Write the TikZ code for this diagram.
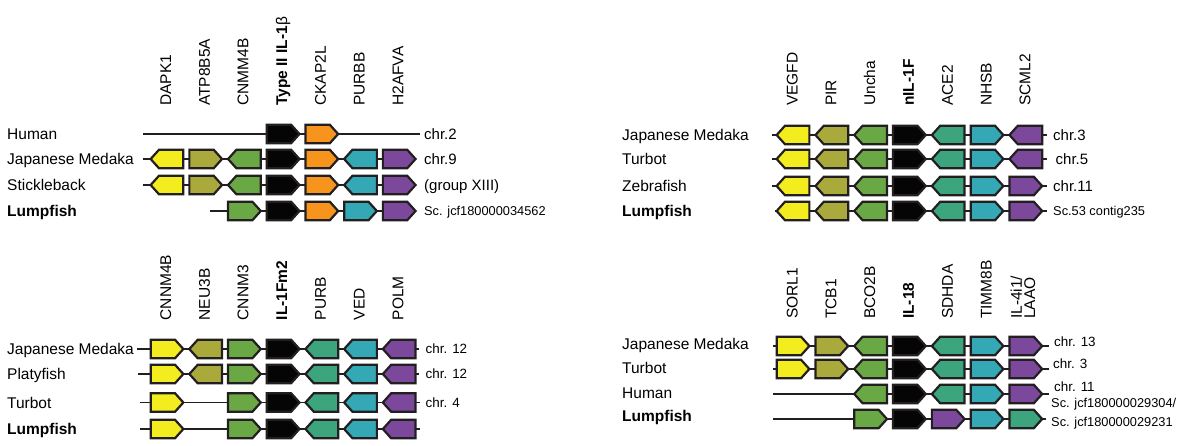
\documentclass[tikz,border=0pt]{standalone}
\usepackage{fontspec}
\setmainfont{Liberation Sans}
\usetikzlibrary{shapes.symbols}

\definecolor{edge}{HTML}{231F20}
\definecolor{gyellow}{HTML}{F3EC1E}
\definecolor{golive}{HTML}{AAAA3C}
\definecolor{ggreen}{HTML}{6AA846}
\definecolor{gblack}{HTML}{050505}
\definecolor{gorange}{HTML}{F7941E}
\definecolor{gcyan}{HTML}{34A8B4}
\definecolor{gsea}{HTML}{3CA57D}
\definecolor{gpurple}{HTML}{7C489B}

\begin{document}
\begin{tikzpicture}[x=1pt,y=-1pt,
  gene/.style={signal,signal pointer angle=96,draw=edge,line width=2.2pt,
    minimum width=32.7pt,minimum height=18.5pt,inner sep=0pt,outer sep=0pt},
  % the signal shape is centred on its box, not on box plus tip
  fwd/.style={gene,signal to=east,xshift=-4.16pt},
  rev/.style={gene,signal to=west,xshift=4.16pt},
  chrom/.style={draw=edge,line width=1.6pt},
  species/.style={anchor=west,inner sep=0pt,text height=11.1pt,text depth=0pt,
    font=\fontsize{15.5}{18}\selectfont},
  genename/.style={species,rotate=90},
  locus/.style={anchor=west,inner sep=0pt,text height=10.7pt,text depth=0pt,
    font=\fontsize{15}{18}\selectfont},
  locus small/.style={locus,text height=9.6pt,font=\fontsize{13.4}{16}\selectfont},
  scaffold/.style={locus,text height=9.2pt,font=\fontsize{12.8}{15}\selectfont}]
\useasboundingbox (0,0) rectangle (1193,445);

%% type II IL-1b locus (top left)
\foreach \i/\t in {1/DAPK1,2/ATP8B5A,3/CNMM4B,4/{\bfseries Type II IL-1}β,5/CKAP2L,6/PURBB,7/H2AFVA}
  \node[genename] (Ag\i) at ({165.5+(\i-1)*38.7},106) {\t};
\foreach \r/\y/\a/\b in {hum/134/143/420,med/159/143/416,stk/185/143/416,lmp/211/210/416} {
  \coordinate (A\r-s) at (\a,\y);
  \coordinate (A\r-e) at (\b,\y);
  \draw[chrom] (A\r-s) -- (A\r-e);
}
\foreach \i/\d/\c in {4/fwd/gblack,5/fwd/gorange}
  \node[\d,fill=\c] (Ahum\i) at ({167+(\i-1)*38.7},134) {};
\foreach \i/\d/\c in {1/rev/gyellow,2/fwd/golive,3/rev/ggreen,4/fwd/gblack,5/fwd/gorange,6/rev/gcyan,7/fwd/gpurple} {
  \node[\d,fill=\c] (Amed\i) at ({167+(\i-1)*38.7},159) {};
  \node[\d,fill=\c] (Astk\i) at ({167+(\i-1)*38.7},185) {};
}
\foreach \i/\d/\c in {3/fwd/ggreen,4/fwd/gblack,5/fwd/gorange,6/fwd/gcyan,7/fwd/gpurple}
  \node[\d,fill=\c] (Almp\i) at ({167+(\i-1)*38.7},211) {};
\node[species] (Ahum) at (7,134) {Human};
\node[species] (Amed) at (7,159) {Japanese Medaka};
\node[species] (Astk) at (7,185) {Stickleback};
\node[species] (Almp) at (7,211) {\bfseries Lumpfish};
\node[locus] (Ahum-c) at (424,134) {chr.2};
\node[locus] (Amed-c) at (424,159) {chr.9};
\node[locus] (Astk-c) at (424,185) {(group XIII)};
\node[scaffold] (Almp-c) at (424,211) {Sc. jcf180000034562};

%% nIL-1F locus (top right)
\foreach \i/\t in {1/VEGFD,2/PIR,3/Uncha,4/{\bfseries nIL-1F},5/ACE2,6/NHSB,7/SCML2}
  \node[genename] (Bg\i) at ({792+(\i-1)*38.8},106) {\t};
\foreach \r/\y/\a/\b in {med/135/772/1047,tur/159/772/1047,zeb/186/772/1047,lmp/211/775/1047} {
  \coordinate (B\r-s) at (\a,\y);
  \coordinate (B\r-e) at (\b,\y);
  \draw[chrom] (B\r-s) -- (B\r-e);
}
\foreach \i/\d/\c in {1/rev/gyellow,2/rev/golive,3/rev/ggreen,4/fwd/gblack,5/rev/gsea,6/fwd/gcyan,7/rev/gpurple} {
  \node[\d,fill=\c] (Bmed\i) at ({793+(\i-1)*38.8},135) {};
  \node[\d,fill=\c] (Btur\i) at ({793+(\i-1)*38.8},159) {};
}
\foreach \i/\d/\c in {1/rev/gyellow,2/rev/golive,3/rev/ggreen,4/fwd/gblack,5/rev/gsea,6/fwd/gcyan,7/fwd/gpurple} {
  \node[\d,fill=\c] (Bzeb\i) at ({793+(\i-1)*38.8},186) {};
  \node[\d,fill=\c] (Blmp\i) at ({793+(\i-1)*38.8},211) {};
}
\node[species] (Bmed) at (622,135) {Japanese Medaka};
\node[species] (Btur) at (622,159) {Turbot};
\node[species] (Bzeb) at (622,186) {Zebrafish};
\node[species] (Blmp) at (622,211) {\bfseries Lumpfish};
\node[locus] (Bmed-c) at (1053,135) {chr.3};
\node[locus] (Btur-c) at (1055.5,159) {chr.5};
\node[locus] (Bzeb-c) at (1053,186) {chr.11};
\node[scaffold] (Blmp-c) at (1053,211) {Sc.53 contig235};

%% IL-1Fm2 locus (bottom left)
\foreach \i/\t in {1/CNNM4B,2/NEU3B,3/CNNM3,4/{\bfseries IL-1Fm2},5/PURB,6/VED,7/POLM}
  \node[genename] (Cg\i) at ({165.5+(\i-1)*38.7},320.5) {\t};
\foreach \r/\y/\a/\b in {med/349/137/419,pla/374/138/419,tur/402.5/140/420,lmp/429/140/420} {
  \coordinate (C\r-s) at (\a,\y);
  \coordinate (C\r-e) at (\b,\y);
  \draw[chrom] (C\r-s) -- (C\r-e);
}
\foreach \i/\d/\c in {1/fwd/gyellow,2/rev/golive,3/fwd/ggreen,4/fwd/gblack,5/rev/gsea,6/rev/gcyan,7/rev/gpurple} {
  \node[\d,fill=\c] (Cmed\i) at ({167+(\i-1)*38.7},349) {};
  \node[\d,fill=\c] (Cpla\i) at ({167+(\i-1)*38.7},374) {};
}
\foreach \i/\d/\c in {1/fwd/gyellow,3/fwd/ggreen,4/fwd/gblack,5/rev/gsea,6/rev/gcyan,7/rev/gpurple} {
  \node[\d,fill=\c] (Ctur\i) at ({167+(\i-1)*38.7},402.5) {};
  \node[\d,fill=\c] (Clmp\i) at ({167+(\i-1)*38.7},429) {};
}
\node[species] (Cmed) at (7,349) {Japanese Medaka};
\node[species] (Cpla) at (7,374) {Platyfish};
\node[species] (Ctur) at (7,402.5) {Turbot};
\node[species] (Clmp) at (7,429) {\bfseries Lumpfish};
\node[locus small] (Cmed-c) at (425.5,349) {chr. 12};
\node[locus small] (Cpla-c) at (425.5,374) {chr. 12};
\node[locus small] (Ctur-c) at (425.5,402.5) {chr. 4};

%% IL-18 locus (bottom right)
\foreach \i/\t in {1/SORL1,2/TCB1,3/BCO2B,4/{\bfseries IL-18},5/SDHDA,6/TIMM8B}
  \node[genename] (Dg\i) at ({792+(\i-1)*38.8},319) {\t};
\node[genename,text height=,text depth=,align=left,font=\fontsize{15.5}{13.3}\selectfont]
  (Dg7) at (1023,319) {IL-4i1/\\LAAO};
\foreach \r/\y/\a/\b in {med/346/773/1049,tur/369/773/1049,hum/394/773/1049,lmp/419/773/1046} {
  \coordinate (D\r-s) at (\a,\y);
  \coordinate (D\r-e) at (\b,\y);
  \draw[chrom] (D\r-s) -- (D\r-e);
}
\foreach \i/\d/\c in {1/fwd/gyellow,2/fwd/golive,3/rev/ggreen,4/fwd/gblack,5/rev/gsea,6/fwd/gcyan,7/fwd/gpurple} {
  \node[\d,fill=\c] (Dmed\i) at ({793+(\i-1)*38.8},346) {};
  \node[\d,fill=\c] (Dtur\i) at ({793+(\i-1)*38.8},369) {};
}
\foreach \i/\d/\c in {3/rev/ggreen,4/fwd/gblack,5/rev/gsea,6/fwd/gcyan,7/fwd/gpurple}
  \node[\d,fill=\c] (Dhum\i) at ({793+(\i-1)*38.8},394) {};
\foreach \i/\d/\c in {3/fwd/ggreen,4/fwd/gblack,5/fwd/gpurple,6/fwd/gcyan,7/fwd/gsea}
  \node[\d,fill=\c] (Dlmp\i) at ({793+(\i-1)*38.8},419) {};
\node[species] (Dmed) at (622,344) {Japanese Medaka};
\node[species] (Dtur) at (622,368) {Turbot};
\node[species] (Dhum) at (622,393) {Human};
\node[species] (Dlmp) at (622,416) {\bfseries Lumpfish};
\node[locus small] (Dmed-c) at (1054,342) {chr. 13};
\node[locus small] (Dtur-c) at (1053,364) {chr. 3};
\node[locus small] (Dhum-c) at (1054,386.5) {chr. 11};
\node[scaffold] (Dlmp-c1) at (1051,403) {Sc. jcf180000029304/};
\node[scaffold] (Dlmp-c2) at (1051,422) {Sc. jcf180000029231};
\end{tikzpicture}
\end{document}
